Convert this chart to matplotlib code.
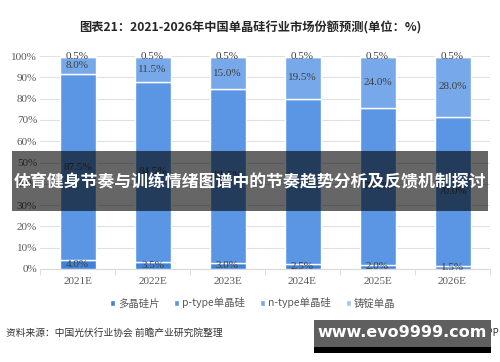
import matplotlib.pyplot as plt
from matplotlib.patches import Rectangle
import numpy as np

plt.rcParams['font.family'] = ['Noto Sans CJK SC', 'DejaVu Sans']

# data (share %, bottom to top)
years = ['2021E', '2022E', '2023E', '2024E', '2025E', '2026E']
poly = [4.0, 3.5, 3.0, 2.5, 2.0, 1.5]
p_type = [87.5, 84.5, 81.5, 77.5, 73.5, 70.0]
n_type = [8.0, 11.5, 15.0, 19.5, 24.0, 28.0]
ingot = [0.5, 0.5, 0.5, 0.5, 0.5, 0.5]

series = [poly, p_type, n_type, ingot]
names = ['多晶硅片', 'p-type单晶硅', 'n-type单晶硅', '铸锭单晶']
colors = ['#3f82da', '#5a96e4', '#76a8ea', '#a4c4f0']

fig = plt.figure(figsize=(5, 3.62), dpi=100)
ax = fig.add_axes([0.08, 0.257, 0.90, 0.588])

x = np.arange(len(years))
bottom = np.zeros(len(years))
for vals, name, c in zip(series, names, colors):
    vals = np.array(vals)
    ax.bar(x, vals, 0.48, bottom=bottom, color=c, edgecolor='white',
           linewidth=1, label=name, zorder=2)
    for xi, b, v in zip(x, bottom, vals):
        ax.text(xi, b + v / 2, f'{v:.1f}%', ha='center', va='center',
                fontsize=8, color='#404040', family='Liberation Serif', zorder=3)
    bottom += vals

ax.set_xlim(-0.5, 5.5)
ax.set_ylim(0, 100)
ax.set_yticks(np.arange(0, 101, 10))
ax.set_yticklabels([f'{v}%' for v in range(0, 101, 10)],
                   family='Liberation Serif', fontsize=8, color='#595959')
ax.set_xticks(x)
ax.set_xticklabels(years, family='Liberation Serif', fontsize=8, color='#595959')
ax.set_xticks(np.arange(-0.5, 6, 1), minor=True)
ax.tick_params(axis='x', which='major', length=0, pad=6)
ax.tick_params(axis='x', which='minor', length=4, color='#d9d9d9')
ax.tick_params(axis='y', length=0, pad=2)
ax.grid(axis='y', color='#e0e0e0', linewidth=0.8, zorder=0)
for s in ['top', 'right', 'left']:
    ax.spines[s].set_visible(False)
ax.spines['bottom'].set_color('#d9d9d9')

fig.text(0.5, 0.922, '图表21：2021-2026年中国单晶硅行业市场份额预测(单位：%)',
         ha='center', va='center', fontsize=8.8, fontweight='bold', color='#262626')

leg = fig.legend(loc='center', bbox_to_anchor=(0.505, 0.163), ncol=4, frameon=False,
                 fontsize=7.5, handlelength=0.5, handleheight=0.5, handletextpad=0.3,
                 columnspacing=1.4)
for t in leg.get_texts():
    t.set_color('#595959')

fig.text(0.012, 0.08, '资料来源：中国光伏行业协会 前瞻产业研究院整理',
         fontsize=7, color='#333333', va='center')
fig.text(0.998, 0.08, '@前瞻经济学人APP', fontsize=7, color='#333333',
         va='center', ha='right')

# overlay banner
fig.patches.append(Rectangle((0.024, 0.417), 0.952, 0.166, transform=fig.transFigure,
                             facecolor='black', alpha=0.6, zorder=10))
fig.text(0.5, 0.495, '体育健身节奏与训练情绪图谱中的节奏趋势分析及反馈机制探讨',
         ha='center', va='center', fontsize=12.2, fontweight='bold',
         color='white', zorder=11)

# overlay url box
fig.patches.append(Rectangle((0.628, 0.025), 0.354, 0.017, transform=fig.transFigure,
                             facecolor='black', zorder=10))
fig.patches.append(Rectangle((0.628, 0.042), 0.354, 0.074, transform=fig.transFigure,
                             facecolor='#5f5f5f', zorder=10))
fig.text(0.805, 0.082, 'www.evo9999.com', ha='center', va='center', fontsize=11.5,
         fontweight='bold', color='white', family='DejaVu Sans', zorder=11)

fig.savefig('out.png', dpi=100)
